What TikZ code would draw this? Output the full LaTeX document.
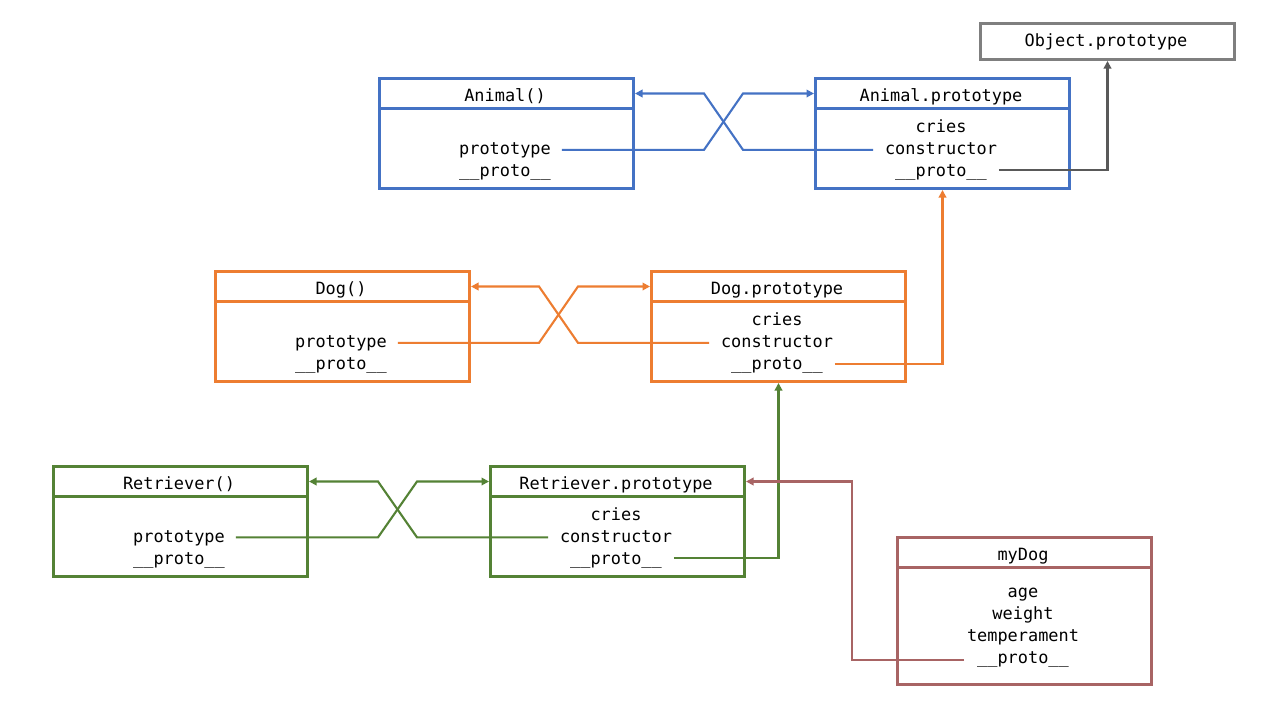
\documentclass[tikz,border=0pt]{standalone}
\usepackage{fontspec}
\setmonofont{DejaVu Sans Mono}
\usetikzlibrary{arrows.meta,calc}
\definecolor{cblue}{HTML}{4472C4}
\definecolor{corange}{HTML}{ED7D31}
\definecolor{cgreen}{HTML}{548235}
\definecolor{cbrown}{HTML}{A86464}
\definecolor{cgraybox}{HTML}{7F7F7F}
\definecolor{cgrayline}{HTML}{595959}
\tikzset{
  box/.style={draw=#1, line width=3pt, anchor=north west, minimum width=254pt, minimum height=110pt, inner sep=0pt, outer sep=1.5pt},
  hdr/.style={draw=#1, line width=3pt, anchor=north west, minimum width=254pt, minimum height=30pt, inner sep=0pt, outer sep=1.5pt},
  txt/.style={anchor=base, inner sep=0pt, outer sep=0pt, font=\ttfamily\fontsize{16.9}{20}\selectfont},
  link/.style={draw=#1, line width=2.1pt, -{Triangle[length=7.5pt,width=7.5pt]}},
}
\begin{document}
\begin{tikzpicture}[x=1pt,y=-1pt]
\useasboundingbox (0,0) rectangle (1280,720);
\fill[white] (0,0) rectangle (1280,720);

% ---------- boxes ----------
\node[hdr=cgraybox, minimum height=36pt] (OP) at (979,22) {};
\node[txt] (OPt) at (1106,46) {Object.prototype};

\node[box=cblue] (A) at (378,77) {};
\node[hdr=cblue] (Ah) at (378,77) {};
\node[txt] (At) at (505,101) {Animal()};
\node[txt] (Apt) at (505,154) {prototype};
\node[txt] (Apr) at (505,176) {\_\_proto\_\_};

\node[box=cblue] (AP) at (814,77) {};
\node[hdr=cblue] (APh) at (814,77) {};
\node[txt] (APt) at (941,101) {Animal.prototype};
\node[txt] (APcr) at (941,132) {cries};
\node[txt] (APc) at (941,154) {constructor};
\node[txt] (APp) at (941,176) {\_\_proto\_\_};

\node[box=corange] (D) at (214,270) {};
\node[hdr=corange] (Dh) at (214,270) {};
\node[txt] (Dt) at (341,294) {Dog()};
\node[txt] (Dpt) at (341,347) {prototype};
\node[txt] (Dpr) at (341,369) {\_\_proto\_\_};

\node[box=corange] (DP) at (650,270) {};
\node[hdr=corange] (DPh) at (650,270) {};
\node[txt] (DPt) at (777,294) {Dog.prototype};
\node[txt] (DPcr) at (777,325) {cries};
\node[txt] (DPc) at (777,347) {constructor};
\node[txt] (DPp) at (777,369) {\_\_proto\_\_};

\node[box=cgreen] (R) at (52,465) {};
\node[hdr=cgreen] (Rh) at (52,465) {};
\node[txt] (Rt) at (179,489) {Retriever()};
\node[txt] (Rpt) at (179,542) {prototype};
\node[txt] (Rpr) at (179,564) {\_\_proto\_\_};

\node[box=cgreen] (RP) at (489,465) {};
\node[hdr=cgreen] (RPh) at (489,465) {};
\node[txt] (RPt) at (616,489) {Retriever.prototype};
\node[txt] (RPcr) at (616,520) {cries};
\node[txt] (RPc) at (616,542) {constructor};
\node[txt] (RPp) at (616,564) {\_\_proto\_\_};

\node[box=cbrown, minimum height=147pt] (M) at (896,536) {};
\node[hdr=cbrown] (Mh) at (896,536) {};
\node[txt] (Mt) at (1023,560) {myDog};
\node[txt] (Ma) at (1023,597) {age};
\node[txt] (Mw) at (1023,619) {weight};
\node[txt] (Mte) at (1023,641) {temperament};
\node[txt] (Mp) at (1023,663) {\_\_proto\_\_};

% ---------- connectors ----------
% Animal
\coordinate (ax1) at (704,0);
\coordinate (ax2) at (743,0);
\coordinate (as1) at ($(Apt.mid east)+(11,-2)$);
\coordinate (as2) at ($(APc.mid west)+(-12,-2)$);
\draw[link=cblue] (as1) -- (as1 -| ax1) -- (APh.west -| ax2) -- (APh.west);
\draw[link=cblue] (as2) -- (as2 -| ax2) -- (Ah.east -| ax1) -- (Ah.east);
\draw[link=cgrayline] ($(APp.mid east)+(12,-3.5)$) -| (OP.south);

% Dog
\coordinate (dx1) at (539,0);
\coordinate (dx2) at (578,0);
\coordinate (ds1) at ($(Dpt.mid east)+(11,-2)$);
\coordinate (ds2) at ($(DPc.mid west)+(-12,-2)$);
\draw[link=corange] (ds1) -- (ds1 -| dx1) -- (DPh.west -| dx2) -- (DPh.west);
\draw[link=corange] (ds2) -- (ds2 -| dx2) -- (Dh.east -| dx1) -- (Dh.east);
\draw[link=corange] ($(DPp.mid east)+(12,-3)$) -| (AP.south);

% Retriever
\coordinate (rx1) at (378,0);
\coordinate (rx2) at (417,0);
\coordinate (rs1) at ($(Rpt.mid east)+(11,-2.5)$);
\coordinate (rs2) at ($(RPc.mid west)+(-12,-2.5)$);
\draw[link=cgreen] (rs1) -- (rs1 -| rx1) -- (RPh.west -| rx2) -- (RPh.west);
\draw[link=cgreen] (rs2) -- (rs2 -| rx2) -- (Rh.east -| rx1) -- (Rh.east);
\draw[link=cgreen] ($(RPp.mid east)+(12,-3.5)$) -| (DP.south);

% myDog
\coordinate (mx) at (852,0);
\draw[link=cbrown] ($(Mp.mid west)+(-13,-1)$) -| (mx |- RPh.east) -- (RPh.east);
\end{tikzpicture}
\end{document}
